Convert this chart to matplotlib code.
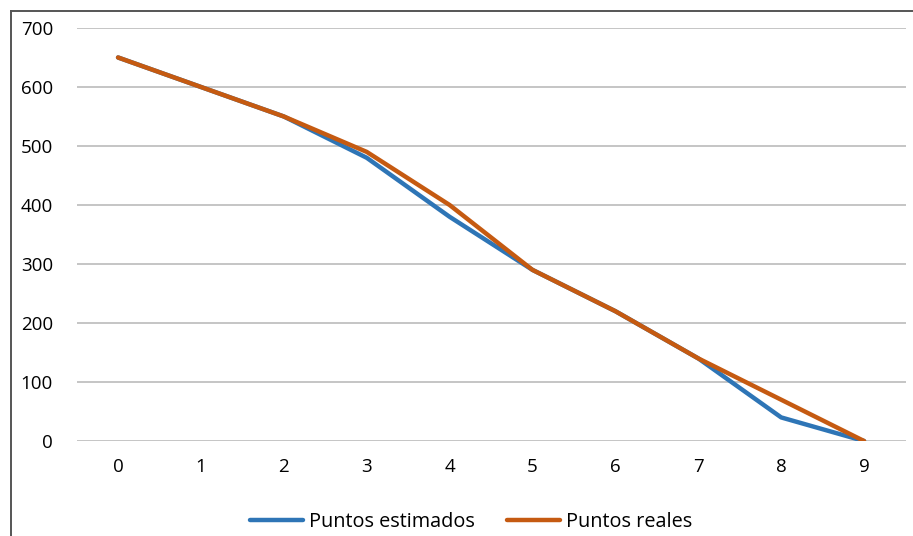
import matplotlib
matplotlib.use("Agg")
import matplotlib.pyplot as plt

x_vals = [0, 1, 2, 3, 4, 5, 6, 7, 8, 9]
estimados = [650, 600, 550, 480, 380, 290, 220, 140, 40, 0]
reales = [650, 600, 550, 490, 400, 290, 220, 140, 70, 0]
y_ticks = [0, 100, 200, 300, 400, 500, 600, 700]

plt.rcParams["font.family"] = ["Open Sans", "DejaVu Sans"]

fig = plt.figure(figsize=(9.13, 5.36), dpi=100)

# overlay in pixel units for the outer chart border (top and left edges only)
frame = fig.add_axes([0, 0, 1, 1], zorder=-1)
frame.set_xlim(0, 913)
frame.set_ylim(536, 0)
frame.axis("off")
frame.plot([10.5, 913], [10.5, 10.5], color="#555555", linewidth=1.4)
frame.plot([10.5, 10.5], [10.5, 536], color="#555555", linewidth=1.4)

ax = fig.add_axes([0.0839, 0.1772, 0.9079, 0.7706])
ax.patch.set_alpha(0)

ax.plot(x_vals, estimados, color="#2E75B6", linewidth=3.2, solid_capstyle="round",
        solid_joinstyle="round", label="Puntos estimados", zorder=3)
ax.plot(x_vals, reales, color="#C55A11", linewidth=3.2, solid_capstyle="round",
        solid_joinstyle="round", label="Puntos reales", zorder=4)

ax.set_xlim(-0.5, 9.5)
ax.set_ylim(0, 700)
ax.set_xticks(x_vals)
ax.set_yticks(y_ticks)
ax.tick_params(axis="both", length=0, labelsize=13.5, colors="#000000")
ax.tick_params(axis="y", pad=17)
ax.tick_params(axis="x", pad=12)
ax.grid(axis="y", color="#C0C0C0", linewidth=1.3)
ax.set_axisbelow(True)
for s in ax.spines.values():
    s.set_visible(False)

fig.legend(loc="center", bbox_to_anchor=(0.516, 0.026), ncol=2, frameon=False,
           fontsize=14.3, handlelength=2.7, handletextpad=0.3, columnspacing=1.6)

fig.savefig("out.png", dpi=100)
